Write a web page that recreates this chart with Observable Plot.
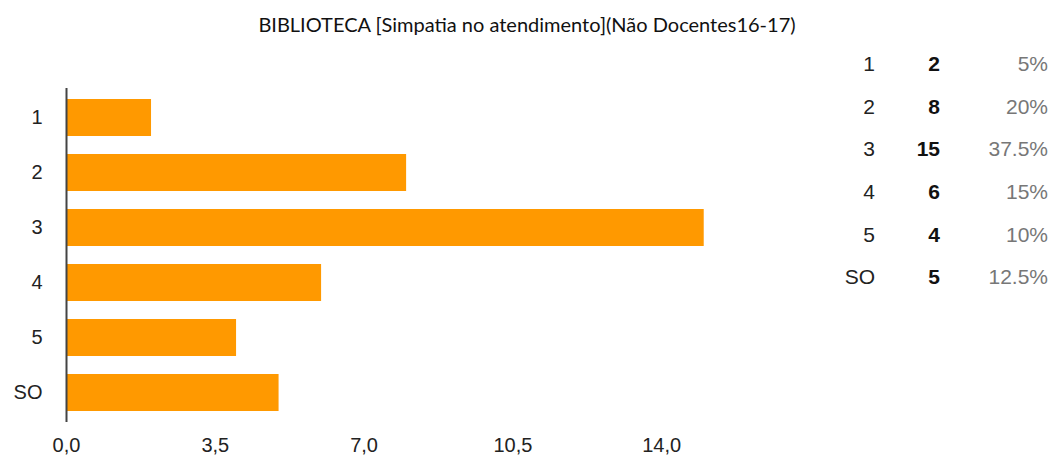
<!DOCTYPE html>
<html>
<head>
<meta charset="utf-8">
<script src="https://cdn.jsdelivr.net/npm/d3@7"></script>
<script src="https://cdn.jsdelivr.net/npm/@observablehq/plot@0.6"></script>
<style>
  html, body { margin: 0; padding: 0; background: #fff; }
  #wrap { position: relative; width: 1054px; height: 456px; overflow: hidden; }
  #title { position: absolute; left: 0; top: 12px; width: 1054px; text-align: center;
           font-family: Lato, "Open Sans", sans-serif; font-size: 20px; line-height: 24px; color: #111; }
  #chart { position: absolute; left: 0; top: 0; }
  #table { position: absolute; left: 820px; top: 43px; display: grid;
           grid-template-columns: 55px 65px 108px; grid-auto-rows: 42.7px;
           font-family: "Liberation Sans", Arial, sans-serif; font-size: 21px; line-height: 42.7px; }
  #table div { text-align: right; white-space: nowrap; }
  .lab { color: #222; }
  .cnt { color: #111; font-weight: bold; }
  .pct { color: #777; }
</style>
</head>
<body>
<div id="wrap">
  <div id="chart"></div>
  <div id="title">BIBLIOTECA [Simpatia no atendimento](Não Docentes16-17)</div>
  <div id="table"></div>
</div>
<script>
const categories = ["1", "2", "3", "4", "5", "SO"];
const counts = [2, 8, 15, 6, 4, 5];
const percents = ["5%", "20%", "37.5%", "15%", "10%", "12.5%"];
const xTicks = [0, 3.5, 7, 10.5, 14];

const data = categories.map((c, i) => ({cat: c, count: counts[i]}));
const fmt = d => d.toFixed(1).replace(".", ",");

const chart = Plot.plot({
  width: 1054,
  height: 456,
  marginLeft: 66,
  marginRight: 244,
  marginTop: 88,
  marginBottom: 34,
  style: {fontFamily: "'Liberation Sans', Arial, sans-serif", fontSize: "20px", color: "#222", background: "transparent"},
  x: {domain: [0, 17.5]},
  y: {domain: categories, paddingInner: 0.32, paddingOuter: 0.16},
  marks: [
    Plot.barX(data, {x: "count", y: "cat", fill: "#ff9900"}),
    Plot.ruleX([0], {stroke: "#444", strokeWidth: 2}),
    Plot.axisX({ticks: xTicks, tickFormat: fmt, tickSize: 0, tickPadding: 15, fontSize: 20, label: null}),
    Plot.axisY({tickSize: 0, tickPadding: 24, fontSize: 20, label: null})
  ]
});
document.getElementById("chart").appendChild(chart);

const table = document.getElementById("table");
categories.forEach((c, i) => {
  const a = document.createElement("div"); a.className = "lab"; a.textContent = c;
  const b = document.createElement("div"); b.className = "cnt"; b.textContent = counts[i];
  const p = document.createElement("div"); p.className = "pct"; p.textContent = percents[i];
  table.append(a, b, p);
});
</script>
</body>
</html>
